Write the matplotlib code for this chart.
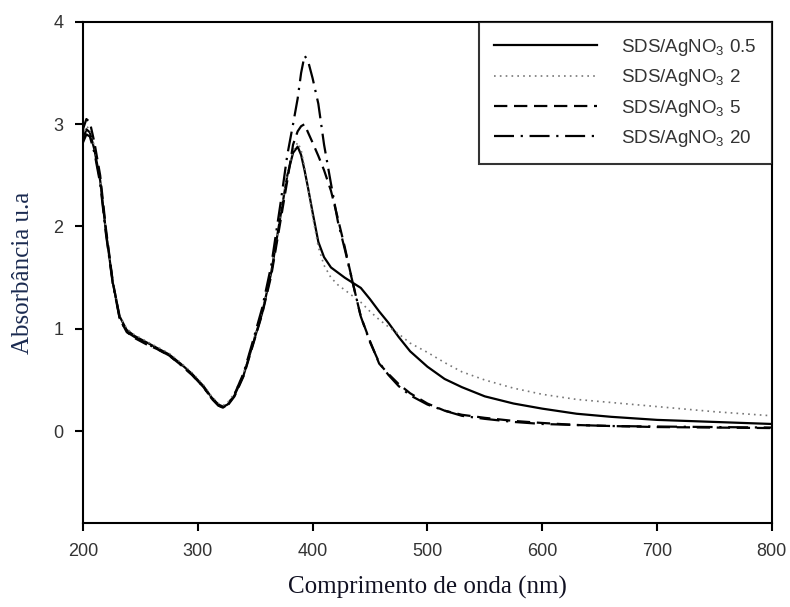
import matplotlib
matplotlib.use('Agg')
from matplotlib import pyplot as plt

plt.rcParams['font.family'] = 'Liberation Sans'
plt.rcParams['mathtext.default'] = 'regular'

# wavelength (nm)
wl = [200, 203, 206, 210, 215, 220, 226, 232, 238, 245, 255, 265, 275, 285, 295,
      305, 312, 318, 322, 326, 332, 340, 348, 356, 364, 372, 378, 383, 387, 390,
      393, 396, 400, 405, 410, 416, 422, 428, 435, 442, 450, 458, 466, 475, 485,
      500, 515, 530, 550, 575, 600, 630, 660, 700, 750, 800]

# SDS/AgNO3 0.5
abs_05 = [2.85, 2.95, 2.92, 2.75, 2.45, 1.95, 1.45, 1.12, 0.99, 0.93, 0.87, 0.81, 0.75, 0.66, 0.56,
          0.44, 0.33, 0.26, 0.24, 0.26, 0.35, 0.55, 0.85, 1.15, 1.55, 2.10, 2.50, 2.72, 2.78, 2.70,
          2.55, 2.38, 2.14, 1.85, 1.70, 1.60, 1.55, 1.50, 1.45, 1.40, 1.29, 1.17, 1.06, 0.92, 0.78,
          0.63, 0.51, 0.43, 0.34, 0.27, 0.22, 0.17, 0.14, 0.11, 0.09, 0.07]

# SDS/AgNO3 2
abs_2 = [2.88, 2.98, 2.95, 2.78, 2.47, 1.97, 1.47, 1.13, 1.00, 0.94, 0.88, 0.82, 0.76, 0.67, 0.57,
         0.45, 0.34, 0.27, 0.25, 0.28, 0.37, 0.57, 0.87, 1.17, 1.57, 2.12, 2.52, 2.74, 2.82, 2.75,
         2.58, 2.38, 2.10, 1.80, 1.62, 1.50, 1.43, 1.38, 1.32, 1.26, 1.17, 1.09, 1.02, 0.95, 0.86,
         0.77, 0.67, 0.58, 0.50, 0.42, 0.36, 0.31, 0.28, 0.24, 0.19, 0.15]

# SDS/AgNO3 5
abs_5 = [2.95, 3.05, 3.02, 2.82, 2.50, 1.98, 1.46, 1.10, 0.97, 0.91, 0.85, 0.80, 0.74, 0.65, 0.55,
         0.43, 0.32, 0.25, 0.23, 0.25, 0.34, 0.54, 0.84, 1.14, 1.52, 2.05, 2.45, 2.80, 2.93, 2.98,
         3.00, 2.92, 2.82, 2.69, 2.55, 2.35, 2.08, 1.80, 1.45, 1.12, 0.88, 0.66, 0.56, 0.46, 0.37,
         0.27, 0.20, 0.16, 0.13, 0.10, 0.08, 0.06, 0.05, 0.04, 0.035, 0.03]

# SDS/AgNO3 20
abs_20 = [2.82, 2.90, 2.88, 2.72, 2.42, 1.93, 1.44, 1.10, 0.97, 0.92, 0.86, 0.80, 0.74, 0.65, 0.55,
          0.43, 0.32, 0.25, 0.23, 0.26, 0.36, 0.57, 0.88, 1.20, 1.62, 2.22, 2.70, 3.00, 3.25, 3.50,
          3.67, 3.62, 3.45, 3.20, 2.80, 2.42, 2.05, 1.78, 1.45, 1.12, 0.87, 0.67, 0.55, 0.44, 0.35,
          0.26, 0.20, 0.15, 0.12, 0.09, 0.07, 0.06, 0.05, 0.045, 0.04, 0.035]

fig = plt.figure(figsize=(7.9, 6.07), dpi=100)
ax = fig.add_axes([0.105, 0.138, 0.872, 0.826])

ax.plot(wl, abs_05, color='black', lw=1.6, label='SDS/AgNO$_3$ 0.5')
ax.plot(wl, abs_2, color='#777777', lw=1.2, linestyle=(0, (1, 2.5)), label='SDS/AgNO$_3$ 2')
ax.plot(wl, abs_5, color='black', lw=1.6, linestyle=(0, (6, 3)), label='SDS/AgNO$_3$ 5')
ax.plot(wl, abs_20, color='black', lw=1.6, linestyle=(0, (9, 3, 1, 3)), label='SDS/AgNO$_3$ 20')

ax.set_xlim(200, 800)
ax.set_ylim(-0.9, 4)
ax.set_xticks([200, 300, 400, 500, 600, 700, 800])
ax.set_yticks([0, 1, 2, 3, 4])

for s in ax.spines.values():
    s.set_linewidth(1.5)
ax.tick_params(direction='out', length=6, width=1.5, labelsize=13, labelcolor='#333333', pad=8)

ax.set_xlabel('Comprimento de onda (nm)', family='Liberation Serif', fontsize=18,
              color='#111122', labelpad=12)
ax.set_ylabel('Absorbância u.a', family='Liberation Serif', fontsize=18,
              color='#1a2a50', labelpad=14)

leg = ax.legend(loc='upper right', borderaxespad=0, fontsize=13.5, handlelength=5.5,
                handletextpad=1.3, borderpad=0.8, labelspacing=0.5, fancybox=False)
leg.get_frame().set_edgecolor('black')
leg.get_frame().set_linewidth(1.5)
for t in leg.get_texts():
    t.set_color('#333333')

plt.savefig('out.png', dpi=100)
